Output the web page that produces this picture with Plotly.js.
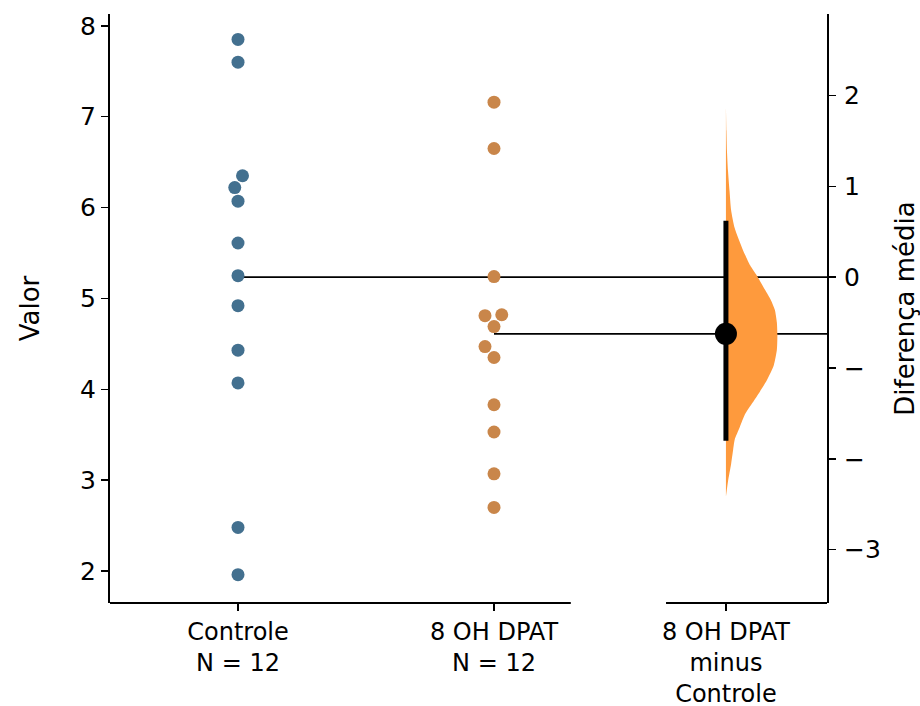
<!DOCTYPE html>
<html><head><meta charset="utf-8">
<script src="https://cdn.plot.ly/plotly-3.0.1.min.js"></script>
<style>html,body{margin:0;padding:0;background:#fff}</style>
</head><body><div id="chart" style="width:920px;height:706px"></div>
<script>
// ---- data ----
const groupLabels = ["Controle<br>N = 12", "8 OH DPAT<br>N = 12"];
const diffLabel = "8 OH DPAT<br>minus<br>Controle";
const controle = [7.85, 7.60, 6.35, 6.22, 6.07, 5.61, 5.25, 4.92, 4.43, 4.07, 2.48, 1.96];
const dpat = [7.16, 6.65, 5.24, 4.81, 4.82, 4.69, 4.47, 4.35, 3.83, 3.53, 3.07, 2.70];
const ciLow = -1.80;
const ciHigh = 0.62;
// bootstrap distribution outline of the mean difference (value, relative density)
const distDiff = [1.89, 1.61, 1.39, 1.17, 0.95, 0.74, 0.54, 0.30, 0.13, 0.00, -0.14, -0.25, -0.36, -0.50, -0.64, -0.80, -0.97, -1.13, -1.26, -1.38, -1.51, -1.65, -1.79, -1.90, -2.06, -2.25, -2.42];
const distDensity = [0.00, 0.01, 0.02, 0.04, 0.07, 0.10, 0.17, 0.33, 0.47, 0.62, 0.76, 0.87, 0.95, 0.99, 1.00, 0.99, 0.93, 0.80, 0.66, 0.52, 0.37, 0.27, 0.17, 0.14, 0.10, 0.04, 0.00];
const leftTicks = [2, 3, 4, 5, 6, 7, 8];
const rightTickVals = [-3, -2, -1, 0, 1, 2];
const rightTickText = ["\u22123", "\u2212", "\u2212", "0", "1", "2"];

// ---- layout constants ----
const W = 920, H = 706;
const M = {l: 110, r: 93, t: 14, b: 103};
const xRange = [-0.5, 2.3008];
const yRange = [1.648, 8.13];
const diffPos = 1.906;
const leftSpineEnd = 1.30, rightSpineStart = 1.672;
const violinWidth = 0.201;
const font = "DejaVu Sans";
const cCtrl = "#43708f", cTest = "#c9864a", cViolin = "#fe9a3d";

const mean = a => a.reduce((s, v) => s + v, 0) / a.length;
const mCtrl = mean(controle), mTest = mean(dpat);
const mDiff = mTest - mCtrl;

const pxX = (W - M.l - M.r) / (xRange[1] - xRange[0]);
const pxY = (H - M.t - M.b) / (yRange[1] - yRange[0]);

// simple beeswarm: ascending order, closest free offset to the centre (left first)
function swarm(vals, center, d) {
  const idx = vals.map((v, i) => i).sort((a, b) => vals[a] - vals[b]);
  const placed = [];
  const out = new Array(vals.length);
  for (const i of idx) {
    const y = vals[i] * pxY;
    let chosen = 0;
    for (let k = 0; k < 800; k++) {
      const cands = k === 0 ? [0] : [-k * 0.25, k * 0.25];
      let found = null;
      for (const c of cands) {
        if (placed.every(p => Math.hypot(p.x - c, p.y - y) >= d)) { found = c; break; }
      }
      if (found !== null) { chosen = found; break; }
    }
    placed.push({x: chosen, y});
    out[i] = center + chosen / pxX;
  }
  return out;
}

const dot = 13;
const traces = [];
// mean reference lines (extend to right spine)
traces.push({x: [0, xRange[1]], y: [mCtrl, mCtrl], mode: 'lines', line: {color: 'black', width: 1.6}, hoverinfo: 'skip', showlegend: false, cliponaxis: false});
traces.push({x: [1, xRange[1]], y: [mTest, mTest], mode: 'lines', line: {color: 'black', width: 1.6}, hoverinfo: 'skip', showlegend: false, cliponaxis: false});
traces.push({x: swarm(controle, 0, 14), y: controle, mode: 'markers', marker: {color: cCtrl, size: dot, line: {width: 0}}, name: 'Controle', showlegend: false});
traces.push({x: swarm(dpat, 1, 14), y: dpat, mode: 'markers', marker: {color: cTest, size: dot, line: {width: 0}}, name: '8 OH DPAT', showlegend: false});
// half violin
const vx = [diffPos].concat(distDensity.map(d => diffPos + d * violinWidth), [diffPos]);
const vy = [distDiff[0]].concat(distDiff, [distDiff[distDiff.length - 1]]);
traces.push({x: vx, y: vy, yaxis: 'y2', mode: 'lines', fill: 'toself', fillcolor: cViolin, line: {width: 0, color: cViolin, shape: 'spline', smoothing: 0.6}, hoverinfo: 'skip', showlegend: false});
// CI bar
traces.push({x: [diffPos, diffPos], y: [ciLow, ciHigh], yaxis: 'y2', mode: 'lines', line: {color: 'black', width: 5}, hoverinfo: 'skip', showlegend: false});
// mean diff dot
traces.push({x: [diffPos], y: [mDiff], yaxis: 'y2', mode: 'markers', marker: {color: 'black', size: 22}, showlegend: false});

const axCommon = {showgrid: false, zeroline: false, ticks: 'outside', ticklen: 7, tickwidth: 1.5, tickcolor: 'black',
  tickfont: {family: font, size: 25, color: 'black'}, linecolor: 'black', linewidth: 2};

const layout = {
  width: W, height: H, margin: M,
  paper_bgcolor: 'white', plot_bgcolor: 'white',
  font: {family: font, color: 'black'},
  showlegend: false,
  xaxis: Object.assign({}, axCommon, {range: xRange, showline: false, tickmode: 'array',
    tickvals: [0, 1, diffPos], ticktext: groupLabels.concat([diffLabel]), fixedrange: true,
    tickfont: {family: font, size: 24, color: 'black'}}),
  yaxis: Object.assign({}, axCommon, {range: yRange, showline: true, tickmode: 'array', tickvals: leftTicks,
    title: {text: 'Valor', font: {family: font, size: 26, color: 'black'}, standoff: 33}}),
  yaxis2: Object.assign({}, axCommon, {overlaying: 'y', side: 'right', anchor: 'x',
    range: [yRange[0] - mCtrl, yRange[1] - mCtrl], showline: true, tickmode: 'array',
    tickvals: rightTickVals, ticktext: rightTickText, ticklabelstandoff: 3,
    title: {text: 'Diferença média', font: {family: font, size: 26, color: 'black'}, standoff: 20}}),
  shapes: [
    {type: 'line', xref: 'x', yref: 'paper', x0: xRange[0], x1: leftSpineEnd, y0: 0, y1: 0, line: {color: 'black', width: 2}},
    {type: 'line', xref: 'x', yref: 'paper', x0: rightSpineStart, x1: xRange[1], y0: 0, y1: 0, line: {color: 'black', width: 2}}
  ]
};
Plotly.newPlot('chart', traces, layout, {displayModeBar: false, staticPlot: true});
</script>
</body></html>
